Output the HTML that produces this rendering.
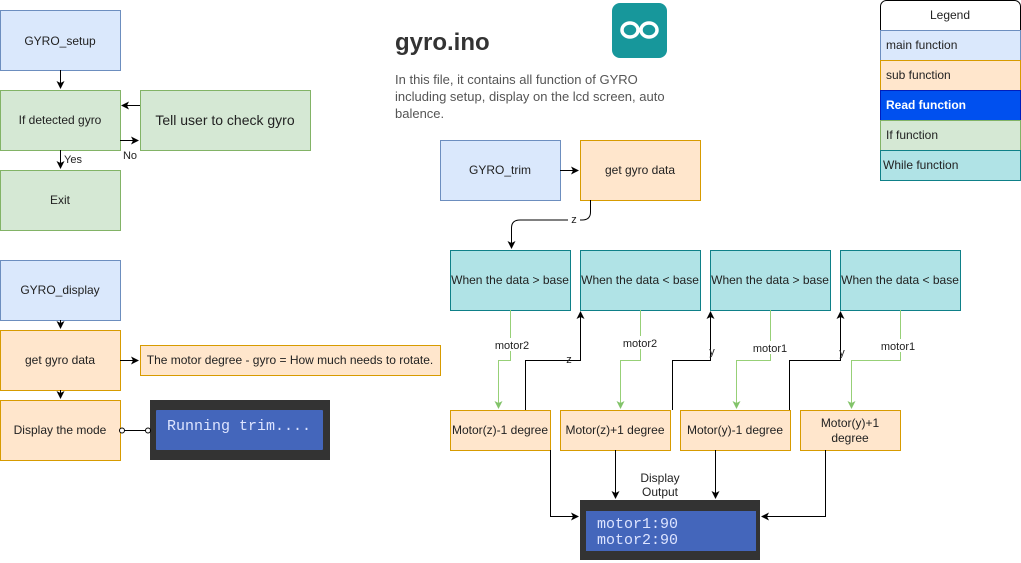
<!DOCTYPE html>
<html><head><style>body{margin:0;background:#fff}svg{display:block;font-family:"Liberation Sans",sans-serif}</style></head><body>
<svg width="1021" height="563" viewBox="0 0 1021 563" xmlns="http://www.w3.org/2000/svg">
<defs>
<marker id="a" markerWidth="8" markerHeight="8" refX="7" refY="4" orient="auto" markerUnits="userSpaceOnUse"><path d="M0,0L8,4L0,8L2,4z" fill="#000"/></marker>
<marker id="g" markerWidth="8" markerHeight="8" refX="7" refY="4" orient="auto" markerUnits="userSpaceOnUse"><path d="M0,0L8,4L0,8L2,4z" fill="#82c36a"/></marker>
</defs>
<g font-size="12" fill="#222" text-anchor="middle">
<rect x="0.5" y="10.5" width="120" height="60" fill="#dae8fc" stroke="#6c8ebf"/><text x="60" y="45">GYRO_setup</text>
<rect x="0.5" y="90.5" width="120" height="60" fill="#d5e8d4" stroke="#82b366"/><text x="60" y="124">If detected gyro</text>
<rect x="140.5" y="90.5" width="170" height="60" fill="#d5e8d4" stroke="#82b366"/><text x="225" y="125" font-size="14">Tell user to check gyro</text>
<rect x="0.5" y="170.5" width="120" height="60" fill="#d5e8d4" stroke="#82b366"/><text x="60" y="204">Exit</text>
<rect x="0.5" y="260.5" width="120" height="60" fill="#dae8fc" stroke="#6c8ebf"/><text x="60" y="294">GYRO_display</text>
<rect x="0.5" y="330.5" width="120" height="60" fill="#ffe6cc" stroke="#d79b00"/><text x="60" y="364">get gyro data</text>
<rect x="140.5" y="345.5" width="300" height="30" fill="#ffe6cc" stroke="#d79b00"/><text x="290" y="364">The motor degree - gyro = How much needs to rotate.</text>
<rect x="0.5" y="400.5" width="120" height="60" fill="#ffe6cc" stroke="#d79b00"/><text x="60" y="434">Display the mode</text>
<rect x="150" y="400" width="180" height="60" fill="#333"/><rect x="156" y="410" width="167" height="40" fill="#4466bb" rx="1"/>
<text x="167" y="430" text-anchor="start" fill="#dde4ff" font-family="Liberation Mono,monospace" font-size="15">Running trim....</text>
<g stroke="#000" fill="none">
<path d="M60.5,70V88" marker-end="url(#a)"/>
<path d="M60.5,150V168" marker-end="url(#a)"/>
<path d="M140,105.5H122" marker-end="url(#a)"/>
<path d="M120,140.5H138" marker-end="url(#a)"/>
<path d="M60.5,320V328" marker-end="url(#a)"/>
<path d="M60.5,390V398" marker-end="url(#a)"/>
<path d="M120,360.5H138" marker-end="url(#a)"/>
<path d="M122,430.5H148"/><circle cx="122" cy="430.5" r="2.5" fill="#fff"/><circle cx="148" cy="430.5" r="2.5" fill="#fff"/>
</g>
<text x="73" y="163" font-size="11">Yes</text><text x="130" y="159" font-size="11">No</text>
<text x="395" y="50" text-anchor="start" font-size="24" font-weight="bold" fill="#333">gyro.ino</text>
<rect x="612" y="3" width="55" height="55" rx="8" fill="#17979b"/>
<g stroke="#fff" stroke-width="3.5" fill="none"><ellipse cx="630" cy="30" rx="8" ry="7"/><ellipse cx="649" cy="30" rx="8" ry="7"/></g>
<g text-anchor="start" font-size="13" fill="#555"><text x="395" y="84">In this file, it contains all function of GYRO</text><text x="395" y="101">including setup, display on the lcd screen, auto</text><text x="395" y="118">balence.</text></g>
<rect x="440.5" y="140.5" width="120" height="60" fill="#dae8fc" stroke="#6c8ebf"/><text x="500" y="174">GYRO_trim</text>
<rect x="580.5" y="140.5" width="120" height="60" fill="#ffe6cc" stroke="#d79b00"/><text x="640" y="174">get gyro data</text>
<g fill="#b0e3e6" stroke="#0e8088">
<rect x="450.5" y="250.5" width="120" height="60"/><rect x="580.5" y="250.5" width="120" height="60"/><rect x="710.5" y="250.5" width="120" height="60"/><rect x="840.5" y="250.5" width="120" height="60"/></g>
<text x="510" y="284">When the data &gt; base</text><text x="640" y="284">When the data &lt; base</text><text x="770" y="284">When the data &gt; base</text><text x="900" y="284">When the data &lt; base</text>
<g fill="#ffe6cc" stroke="#d79b00">
<rect x="450.5" y="410.5" width="100" height="40"/><rect x="560.5" y="410.5" width="110" height="40"/><rect x="680.5" y="410.5" width="110" height="40"/><rect x="800.5" y="410.5" width="100" height="40"/></g>
<text x="500" y="434">Motor(z)-1 degree</text><text x="615" y="434">Motor(z)+1 degree</text><text x="735" y="434">Motor(y)-1 degree</text><text x="850" y="427">Motor(y)+1</text><text x="850" y="442">degree</text>
<rect x="580" y="500" width="180" height="60" fill="#333"/><rect x="586" y="511" width="170" height="40" fill="#4466bb"/>
<g text-anchor="start" fill="#dde4ff" font-family="Liberation Mono,monospace" font-size="15"><text x="597" y="528">motor1:90</text><text x="597" y="544">motor2:90</text></g>
<text x="660" y="482">Display</text><text x="660" y="496">Output</text>
<g stroke="#000" fill="none">
<path d="M560,170.5H578" marker-end="url(#a)"/>
<path d="M590.5,200V212Q590.5,220 582,220H520Q511.5,220 511.5,228V248" marker-end="url(#a)"/>
<path d="M525.5,410V360.5H580.5V312" marker-end="url(#a)"/>
<path d="M672.5,410V360.5H710.5V312" marker-end="url(#a)"/>
<path d="M789.5,410V360.5H840.5V312" marker-end="url(#a)"/>
<path d="M550.5,450V516.5H578" marker-end="url(#a)"/>
<path d="M615.5,450V498" marker-end="url(#a)"/>
<path d="M715.5,450V498" marker-end="url(#a)"/>
<path d="M825.5,450V516.5H762" marker-end="url(#a)"/>
</g>
<g stroke="#97d077" fill="none">
<path d="M510.5,310V360.5H498.5V408" marker-end="url(#g)"/>
<path d="M640.5,310V360.5H620.5V408" marker-end="url(#g)"/>
<path d="M770.5,310V360.5H736.5V408" marker-end="url(#g)"/>
<path d="M900.5,310V360.5H851.5V408" marker-end="url(#g)"/>
</g>
<g font-size="11"><rect x="568" y="214" width="12" height="12" fill="#fff"/><text x="574" y="223">z</text>
<rect x="495" y="338" width="34" height="13" fill="#fff"/><text x="512" y="349">motor2</text>
<rect x="623" y="336" width="34" height="13" fill="#fff"/><text x="640" y="347">motor2</text>
<rect x="753" y="341" width="34" height="13" fill="#fff"/><text x="770" y="352">motor1</text>
<rect x="881" y="339" width="34" height="13" fill="#fff"/><text x="898" y="350">motor1</text>
<text x="569" y="363">z</text><text x="712" y="355">y</text><text x="842" y="356">y</text></g>
<rect x="880.5" y="0.5" width="140" height="180" rx="6" fill="#fff" stroke="#000"/>
<text x="950" y="19">Legend</text>
<rect x="880.5" y="30.5" width="140" height="30" fill="#dae8fc" stroke="#6c8ebf"/>
<rect x="880.5" y="60.5" width="140" height="30" fill="#ffe6cc" stroke="#d79b00"/>
<rect x="880.5" y="90.5" width="140" height="30" fill="#0050ef" stroke="#001dbc"/>
<rect x="880.5" y="120.5" width="140" height="30" fill="#d5e8d4" stroke="#82b366"/>
<rect x="880.5" y="150.5" width="140" height="30" fill="#b0e3e6" stroke="#0e8088"/>
<g text-anchor="start"><text x="886" y="49">main function</text><text x="886" y="79">sub function</text><text x="886" y="109" fill="#fff" font-weight="bold">Read function</text><text x="886" y="139">If function</text><text x="883" y="169">While function</text></g>
</g>
</svg>
</body></html>
